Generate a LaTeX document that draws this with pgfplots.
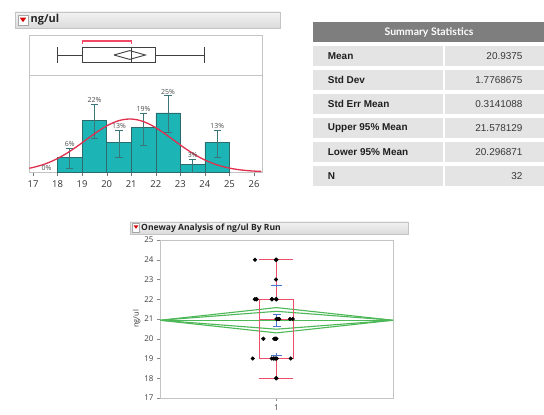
\documentclass[border=0pt]{standalone}
\usepackage{fontspec}
\setmainfont{Liberation Sans}
\newfontfamily\jmp{Open Sans}
\newfontfamily\hdr{Lato}
\usepackage{pgfplots}
\pgfplotsset{compat=1.18}
\definecolor{barfill}{HTML}{1CB4B4}
\definecolor{bardraw}{HTML}{2C6A6B}
\definecolor{errc}{HTML}{3A7677}
\definecolor{curvec}{HTML}{E0304E}
\definecolor{brk}{HTML}{F04A66}
\definecolor{framec}{HTML}{C4C4C4}
\definecolor{tickc}{HTML}{333333}
\definecolor{hdrgray}{HTML}{7E7E7E}
\definecolor{rowgray}{HTML}{E4E4E5}
\definecolor{greenc}{HTML}{4DB857}
\definecolor{bluec}{HTML}{4A78D0}
\definecolor{redbox}{HTML}{EE4E68}
\begin{document}
\begin{tikzpicture}[x=1bp,y=1bp]
\useasboundingbox (0,0) rectangle (544,414);
\fill[white] (0,0) rectangle (544,414);

% ---------- top-left header ----------
\shade[top color=white!95!black, bottom color=white!86!black, draw=framec] (15,402) rectangle (280,386);
\draw[fill=white, draw=gray!70] (18,399) rectangle (28,389);
\fill[red!85!black] (19.8,396.3) -- (26.2,396.3) -- (23,391.8) -- cycle;
\node[anchor=west, inner sep=0pt, text=black!85] at (30.5,394.2) {\fontsize{11}{12}\selectfont\jmp\bfseries ng/ul};

% ---------- outlier/box plot ----------
\begin{axis}[at={(29bp,339bp)}, anchor=south west, scale only axis, width=233bp, height=40bp,
  xmin=16.837, xmax=26.326, ymin=0, ymax=1, xtick=\empty, ytick=\empty,
  axis line style={framec}, clip=false]
\addplot[black!75, line width=0.9bp] coordinates {(19,0.31) (22,0.31) (22,0.69) (19,0.69) (19,0.31)};
\addplot[black!75, line width=0.9bp] coordinates {(18,0.5) (19,0.5)};
\addplot[black!75, line width=0.9bp] coordinates {(22,0.5) (24,0.5)};
\addplot[black!75, line width=0.9bp] coordinates {(18,0.31) (18,0.69)};
\addplot[black!75, line width=0.9bp] coordinates {(24,0.31) (24,0.69)};
\addplot[black!75, line width=0.9bp] coordinates {(21,0.31) (21,0.69)};
\addplot[black!75, line width=0.9bp] coordinates {(20.297,0.5) (20.9375,0.61) (21.578,0.5) (20.9375,0.39) (20.297,0.5)};
\addplot[brk, line width=1.1bp] coordinates {(19,0.78) (19,0.85) (21,0.85) (21,0.78)};
\end{axis}

% ---------- histogram ----------
\begin{axis}[at={(29bp,242bp)}, anchor=south west, scale only axis, width=233bp, height=97bp,
  xmin=16.837, xmax=26.326, ymin=0, ymax=41.1,
  xtick={17,18,...,26}, ytick=\empty, xtick pos=lower, tick align=outside,
  major tick length=4bp, tick style={framec!60!black},
  axis line style={framec},
  ticklabel style={font=\fontsize{9.5}{10}\selectfont\jmp, text=tickc},
  /pgf/number format/assume math mode=true,
  xticklabel style={yshift=-1bp}]
\addplot[ybar interval, fill=barfill, draw=bardraw, line width=0.5bp]
  coordinates {(18,6.25) (19,21.875) (20,12.5) (21,18.75) (22,25) (23,3.125) (24,12.5) (25,0)};
\addplot[draw=none, mark=none, errc, error bars/.cd, y dir=both, y explicit,
  error bar style={errc, line width=0.7bp},
  error mark options={errc, rotate=90, mark size=3.6bp, line width=0.7bp}]
  coordinates {
  (18.5,6.25) += (0,3.95) -= (0,4.85)
  (19.5,21.875) += (0,6.9) -= (0,7.5)
  (20.5,12.5) += (0,5.2) -= (0,6.3)
  (21.5,18.75) += (0,6.25) -= (0,7.45)
  (22.5,25) += (0,7.5) -= (0,8)
  (23.5,3.125) += (0,2.4) -= (0,3.1)
  (24.5,12.5) += (0,5.2) -= (0,6.3)
  };
\addplot[curvec, line width=1.3bp, smooth] coordinates {
(16.85,1.59) (17,1.93) (17.25,2.61) (17.5,3.45) (17.75,4.49) (18,5.73) (18.25,7.15)
(18.5,8.76) (18.75,10.52) (19,12.39) (19.25,14.30) (19.5,16.18) (19.75,17.96)
(20,19.53) (20.25,20.83) (20.5,21.78) (20.75,22.32) (21,22.44) (21.25,22.11)
(21.5,21.35) (21.75,20.22) (22,18.77) (22.25,17.09) (22.5,15.25) (22.75,13.34)
(23,11.44) (23.25,9.62) (23.5,7.94) (23.75,6.41) (24,5.08) (24.25,3.95)
(24.5,3.01) (24.75,2.25) (25,1.65) (25.25,1.18) (25.5,0.83) (25.75,0.57)
(26,0.39) (26.3,0.24)};
\begin{scope}[every node/.style={font=\fontsize{7}{8}\selectfont\jmp, text=black!70, inner sep=1bp, anchor=south}]
\node at (axis cs:17.55,0.3) {0\%};
\node at (axis cs:18.5,10.2) {6\%};
\node at (axis cs:19.5,28.8) {22\%};
\node at (axis cs:20.5,17.7) {13\%};
\node at (axis cs:21.5,25.0) {19\%};
\node at (axis cs:22.5,32.5) {25\%};
\node at (axis cs:23.5,5.5) {3\%};
\node at (axis cs:24.5,17.7) {13\%};
\end{scope}
\end{axis}

% ---------- summary statistics table ----------
\fill[hdrgray] (313,392.3) rectangle (545,371.7);
\node[text=white] at (429,382) {\fontsize{10.5}{12}\selectfont\hdr\bfseries Summary Statistics};
\foreach \i/\lab/\val in {0/Mean/20.9375, 1/Std Dev/1.7768675, 2/Std Err Mean/0.3141088,
  3/Upper 95\% Mean/21.578129, 4/Lower 95\% Mean/20.296871, 5/N/32} {
  \pgfmathsetmacro{\yt}{414-45.7-24*\i}
  \pgfmathsetmacro{\yb}{\yt-20}
  \pgfmathsetmacro{\yc}{\yt-10}
  \fill[rowgray] (312.7,\yt) rectangle (442.7,\yb);
  \fill[rowgray] (445,\yt) rectangle (545,\yb);
  \node[anchor=west, inner sep=0pt, text=black!88] at (327.7,\yc) {\fontsize{10}{12}\selectfont\bfseries \lab};
  \node[anchor=east, inner sep=0pt, text=black!78] at (522.7,\yc) {\fontsize{10}{12}\selectfont \val};
}

% ---------- oneway header ----------
\shade[top color=white!95!black, bottom color=white!86!black, draw=framec] (130,192.3) rectangle (408,180);
\draw[fill=white, draw=gray!70] (132.5,190.6) rectangle (139.5,182.2);
\fill[red!85!black] (133.6,188.6) -- (138.4,188.6) -- (136,185.2) -- cycle;
\node[anchor=west, inner sep=0pt, text=black!85] at (141,186.2) {\fontsize{8.6}{10}\selectfont\jmp\bfseries Oneway Analysis of ng/ul By Run};

% ---------- oneway plot ----------
\begin{axis}[at={(160bp,16bp)}, anchor=south west, scale only axis, width=233bp, height=158bp,
  xmin=0, xmax=2, ymin=17, ymax=25, xtick={1}, ytick={17,18,...,25},
  tick align=outside, major tick length=3bp, tick style={framec!70!black},
  xtick pos=lower, ytick pos=left,
  axis line style={framec},
  ticklabel style={font=\fontsize{8}{9}\selectfont\jmp, text=black!75},
  /pgf/number format/assume math mode=true,
  ylabel={ng/ul}, ylabel style={font=\fontsize{7.5}{8}\selectfont\jmp, text=black!80, yshift=-3bp},
  xlabel={Run}, xlabel style={font=\fontsize{7.5}{8}\selectfont\jmp, text=black!80, yshift=-1bp}]
% means diamonds
\addplot[greenc, line width=1.1bp] coordinates {(0,20.9375) (1,21.578) (2,20.9375) (1,20.297) (0,20.9375)};
\addplot[greenc, line width=1.1bp] coordinates {(0,20.9375) (1,21.39) (2,20.9375) (1,20.484) (0,20.9375)};
\addplot[greenc, line width=1.1bp] coordinates {(0,20.9375) (2,20.9375)};
% red box plot
\addplot[redbox, line width=1bp] coordinates {(0.853,19) (1.145,19) (1.145,22) (0.853,22) (0.853,19)};
\addplot[redbox, line width=1bp] coordinates {(0.853,21) (1.145,21)};
\addplot[redbox, line width=1bp] coordinates {(1,22) (1,24)};
\addplot[redbox, line width=1bp] coordinates {(1,19) (1,18)};
\addplot[redbox, line width=1bp] coordinates {(0.853,24) (1.145,24)};
\addplot[redbox, line width=1bp] coordinates {(0.853,18) (1.145,18)};
% blue std dev and mean error
\addplot[bluec, line width=0.9bp] coordinates {(0.95,22.71) (1.044,22.71)};
\addplot[bluec, line width=0.9bp] coordinates {(0.997,22.71) (0.997,22.6)};
\addplot[bluec, line width=0.9bp] coordinates {(0.95,19.17) (1.044,19.17)};
\addplot[bluec, line width=0.9bp] coordinates {(0.997,19.17) (0.997,19.28)};
\addplot[bluec, line width=0.9bp] coordinates {(1.003,20.62) (1.003,21.25)};
\addplot[bluec, line width=0.9bp] coordinates {(0.97,21.25) (1.036,21.25)};
\addplot[bluec, line width=0.9bp] coordinates {(0.97,20.62) (1.036,20.62)};
% data points
\addplot[only marks, mark=*, mark size=1.9bp, black] coordinates {
(0.815,24) (0.996,24) (0.996,24) (1.0,24)
(0.996,23)
(0.813,22) (0.830,22) (0.959,22) (0.996,22) (1.0,22) (0.825,22) (0.962,22) (0.998,22)
(1.002,21) (1.015,21) (1.024,21) (1.116,21) (1.139,21) (1.0,21)
(0.887,20) (0.980,20) (1.0,20) (0.99,20)
(0.796,19) (0.959,19) (0.987,19) (1.002,19) (1.122,19) (0.975,19) (0.995,19)
(0.996,18) (1.0,18)
};
\end{axis}
\end{tikzpicture}
\end{document}
